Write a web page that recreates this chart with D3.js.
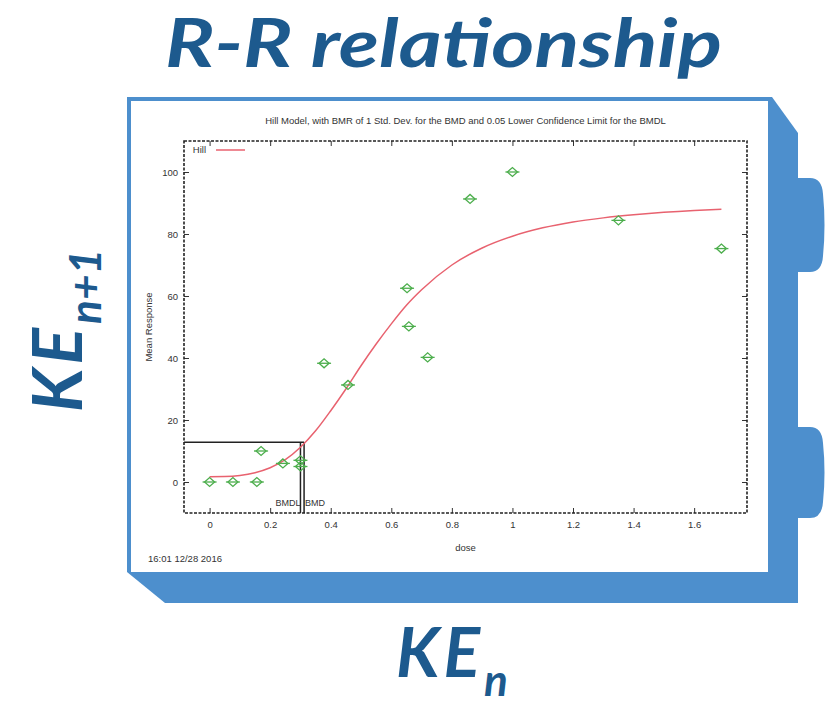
<!DOCTYPE html>
<html>
<head>
<meta charset="utf-8">
<script src="https://cdn.jsdelivr.net/npm/d3@7"></script>
<style>
  html, body { margin: 0; padding: 0; background: #ffffff; }
  svg { display: block; }
</style>
</head>
<body>
<div id="chart"></div>
<script>
// Observed dose groups and their mean responses
const doses     = [0, 0.077, 0.156, 0.17, 0.242, 0.30, 0.30, 0.378, 0.457, 0.652, 0.658, 0.72, 0.86, 1.0, 1.35, 1.69];
const responses = [0, 0, 0, 10, 6, 7, 5, 38.3, 31.3, 62.5, 50.2, 40.2, 91.3, 100, 84.4, 75.3];

// Fitted Hill model curve, sampled along the dose range
const fitDose = [0, 0.05, 0.1, 0.15, 0.2, 0.25, 0.3, 0.35, 0.4, 0.45, 0.5, 0.55, 0.6, 0.65, 0.7, 0.8, 0.9, 1.0, 1.1, 1.2, 1.3, 1.4, 1.5, 1.6, 1.69];
const fitResp = [1.7, 1.75, 2.1, 3.0, 4.6, 7.2, 11.2, 16.5, 23, 30, 37.5, 44.5, 51, 57, 62, 70, 75.5, 79.3, 82, 83.9, 85.2, 86.2, 87, 87.6, 88];

// Benchmark dose, its lower confidence limit, and the benchmark response level
const bmdlDose = 0.300;
const bmdDose  = 0.312;
const bmrLevel = 12.8;

const xTicks = [0, 0.2, 0.4, 0.6, 0.8, 1, 1.2, 1.4, 1.6];
const yTicks = [0, 20, 40, 60, 80, 100];
const xDomain = [-0.0845, 1.7745];
const yDomain = [-10, 110];

const W = 831, H = 705;
const blue = "#4d8fcd";
const navy = "#1d5a8e";
const ink = "#333333";
const smallFont = 9.5;

const svg = d3.select("#chart").append("svg")
  .attr("width", W).attr("height", H);

// ---- card-shaped frame behind the plot ----
const frame = svg.append("g");
function tab(top, bottom) {
  const p = d3.path();
  p.moveTo(792, top);
  p.lineTo(810, top);
  p.quadraticCurveTo(822, top, 823, top + 16);
  p.quadraticCurveTo(826, (top + bottom) / 2, 823, bottom - 16);
  p.quadraticCurveTo(822, bottom, 810, bottom);
  p.lineTo(792, bottom);
  p.closePath();
  return p.toString();
}
frame.append("path").attr("d", tab(178, 272)).attr("fill", blue);
frame.append("path").attr("d", tab(427, 518)).attr("fill", blue);
frame.append("polygon")
  .attr("points", [[127, 97], [772, 97], [798, 133], [798, 603], [165, 603], [127, 572]].map(p => p.join(",")).join(" "))
  .attr("fill", blue);
frame.append("rect")
  .attr("x", 131).attr("y", 101).attr("width", 637).attr("height", 471)
  .attr("fill", "#ffffff");

// ---- plot ----
const plot = { left: 184, right: 747, top: 141, bottom: 513 };
const x = d3.scaleLinear().domain(xDomain).range([plot.left, plot.right]);
const y = d3.scaleLinear().domain(yDomain).range([plot.bottom, plot.top]);

const g = svg.append("g").attr("font-family", "'Liberation Sans', Arial, sans-serif").attr("fill", ink);

g.append("text")
  .attr("x", (plot.left + plot.right) / 2).attr("y", 124)
  .attr("text-anchor", "middle").attr("font-size", smallFont)
  .text("Hill Model, with BMR of 1 Std. Dev. for the BMD and 0.05 Lower Confidence Limit for the BMDL");

// axes with inward ticks, mirrored on the opposite borders
const axB = d3.axisBottom(x).tickValues(xTicks).tickSize(-5).tickPadding(8).tickFormat(d3.format("~g"));
const axT = d3.axisTop(x).tickValues(xTicks).tickSize(-5).tickFormat("");
const axL = d3.axisLeft(y).tickValues(yTicks).tickSize(-5).tickPadding(6).tickFormat(d3.format("d"));
const axR = d3.axisRight(y).tickValues(yTicks).tickSize(-5).tickFormat("");

function styleAxis(sel) {
  sel.select(".domain").remove();
  sel.selectAll(".tick line").attr("stroke", ink).attr("stroke-width", 1);
  sel.selectAll(".tick text").attr("fill", ink).attr("font-size", smallFont)
    .attr("font-family", "'Liberation Sans', Arial, sans-serif");
}
g.append("g").attr("transform", `translate(0,${plot.bottom})`).call(axB).call(styleAxis);
g.append("g").attr("transform", `translate(0,${plot.top})`).call(axT).call(styleAxis);
g.append("g").attr("transform", `translate(${plot.left},0)`).call(axL).call(styleAxis);
g.append("g").attr("transform", `translate(${plot.right},0)`).call(axR).call(styleAxis);

// dashed plot border
g.append("rect")
  .attr("x", plot.left).attr("y", plot.top)
  .attr("width", plot.right - plot.left).attr("height", plot.bottom - plot.top)
  .attr("fill", "none").attr("stroke", "#222").attr("stroke-width", 1.6)
  .attr("stroke-dasharray", "3 1.5");

// axis titles
g.append("text")
  .attr("x", (plot.left + plot.right) / 2).attr("y", 551)
  .attr("text-anchor", "middle").attr("font-size", smallFont).text("dose");
g.append("text")
  .attr("transform", `translate(152,${(plot.top + plot.bottom) / 2}) rotate(-90)`)
  .attr("text-anchor", "middle").attr("font-size", smallFont).text("Mean Response");
g.append("text")
  .attr("x", 148).attr("y", 562).attr("font-size", smallFont).text("16:01 12/28 2016");

// BMD / BMDL markers
const bmLines = g.append("g").attr("stroke", "#222").attr("stroke-width", 1.5).attr("fill", "none");
bmLines.append("line")
  .attr("x1", plot.left).attr("x2", x(bmdDose))
  .attr("y1", y(bmrLevel)).attr("y2", y(bmrLevel));
bmLines.append("line")
  .attr("x1", x(bmdDose)).attr("x2", x(bmdDose))
  .attr("y1", plot.bottom).attr("y2", y(bmrLevel));
bmLines.append("line")
  .attr("x1", x(bmdlDose)).attr("x2", x(bmdlDose))
  .attr("y1", plot.bottom).attr("y2", y(bmrLevel));
g.append("text")
  .attr("x", x(bmdlDose)).attr("y", 506).attr("text-anchor", "end")
  .attr("font-size", smallFont - 0.5).text("BMDL");
g.append("text")
  .attr("x", x(bmdDose) + 1).attr("y", 506)
  .attr("font-size", smallFont - 0.5).text("BMD");

// fitted curve
const fit = fitDose.map((d, i) => [d, fitResp[i]]);
g.append("path")
  .datum(fit)
  .attr("fill", "none").attr("stroke", "#e8626f").attr("stroke-width", 1.5)
  .attr("d", d3.line().x(d => x(d[0])).y(d => y(d[1])).curve(d3.curveMonotoneX));

// observed means
const pts = g.append("g").attr("stroke", "#4cae4c").attr("stroke-width", 1.3).attr("fill", "none");
doses.forEach((d, i) => {
  const cx = x(d), cy = y(responses[i]);
  const m = pts.append("g").attr("transform", `translate(${cx},${cy})`);
  m.append("path").attr("d", "M-5,0L0,-4.5L5,0L0,4.5Z");
  m.append("line").attr("x1", -7).attr("x2", 7).attr("y1", 0).attr("y2", 0);
});

// legend
g.append("text").attr("x", 206).attr("y", 153).attr("text-anchor", "end")
  .attr("fill", ink).attr("font-size", smallFont).text("Hill");
g.append("line")
  .attr("x1", 216).attr("x2", 245).attr("y1", 150).attr("y2", 150)
  .attr("stroke", "#e8626f").attr("stroke-width", 1.5);

// ---- headings ----
const head = svg.append("g")
  .attr("font-family", "Lato, 'Open Sans', sans-serif")
  .attr("font-weight", 700).attr("font-style", "italic").attr("fill", navy);

head.append("text")
  .attr("x", 165).attr("y", 67)
  .attr("font-size", 66)
  .attr("textLength", 557).attr("lengthAdjust", "spacingAndGlyphs")
  .text("R-R relationship");

const ken = head.append("text").attr("x", 396).attr("y", 677).attr("font-size", 68);
ken.append("tspan").attr("letter-spacing", 4).text("KE");
ken.append("tspan").attr("dy", 19).attr("font-size", 44).attr("letter-spacing", 0).text("n");

const ken1 = head.append("text")
  .attr("transform", "translate(82,412) rotate(-90)")
  .attr("font-size", 68);
ken1.append("tspan").attr("letter-spacing", 4).text("KE");
ken1.append("tspan").attr("dy", 19).attr("font-size", 44).attr("letter-spacing", 0).text("n+1");
</script>
</body>
</html>
